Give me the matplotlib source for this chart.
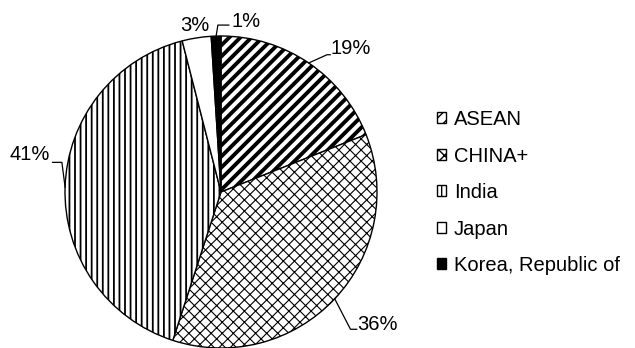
import numpy as np
import matplotlib
matplotlib.use("Agg")
import matplotlib.pyplot as plt

plt.rcParams['font.family'] = ['Liberation Sans', 'DejaVu Sans']

regions = ["ASEAN", "CHINA+", "India", "Japan", "Korea, Republic of"]
shares = [19, 36, 41, 3, 1]
pct_labels = ["19%", "36%", "41%", "3%", "1%"]

# styles
colors = ["white", "white", "white", "white", "black"]
hatches = ["///", "xxx", "|||", "", ""]
hatch_lw = [2.8, 0.8, 1.3, 1.0, 1.0]

fig = plt.figure(figsize=(6.35, 3.48), dpi=100)
ax = fig.add_axes([65 / 635, 0.0, 312 / 635, 312 / 348])

wedges, _ = ax.pie(shares, startangle=90, counterclock=False, colors=colors,
                   wedgeprops=dict(edgecolor="black", linewidth=1.0))
for w, h, lw in zip(wedges, hatches, hatch_lw):
    w.set_hatch(h)
    if hasattr(w, "set_hatch_linewidth"):
        w.set_hatch_linewidth(lw)
ax.set_xlim(-1, 1)
ax.set_ylim(-1, 1)
ax.set_aspect("auto")

# label layout: text anchor (x, y, ha) and leader elbow points (None = no leader)
text_pos = [(0.70, 0.92, "left"), (0.87, -0.85, "left"), (-1.10, 0.24, "right"),
            (-0.17, 1.07, "center"), (0.07, 1.09, "left")]
elbows = [[(0.68, 0.88), (0.70, 0.88)],
          [(0.83, -0.88), (0.87, -0.88)],
          [(-1.02, 0.19), (-1.08, 0.19)],
          None,
          [(-0.02, 1.07), (0.05, 1.07)]]

for w, lab, tp, el in zip(wedges, pct_labels, text_pos, elbows):
    mid = np.deg2rad((w.theta1 + w.theta2) / 2)
    ex, ey = np.cos(mid), np.sin(mid)
    if el is not None:
        xs = [ex] + [p[0] for p in el]
        ys = [ey] + [p[1] for p in el]
        ax.plot(xs, ys, color="black", lw=0.9, clip_on=False)
    ax.text(tp[0], tp[1], lab, ha=tp[2], va="center", fontsize=14.5, clip_on=False)

fig.legend(wedges, regions, loc="upper left", bbox_to_anchor=(437 / 635, 1 - 110 / 348),
           frameon=False, fontsize=14.5, handlelength=0.45, handleheight=0.45,
           handletextpad=0.4, labelspacing=0.87, borderpad=0, borderaxespad=0)

fig.savefig("out.png", dpi=100)
